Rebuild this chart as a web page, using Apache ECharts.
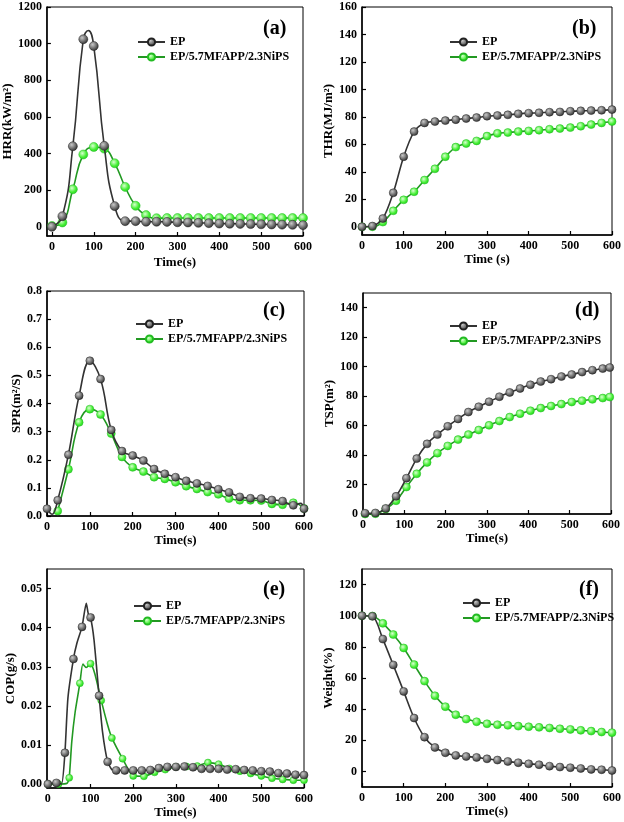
<!DOCTYPE html>
<html>
<head>
<meta charset="utf-8">
<script src="https://cdn.jsdelivr.net/npm/echarts@6/dist/echarts.min.js"></script>
<style>html,body{margin:0;padding:0;background:#fff}#c{width:624px;height:822px}</style>
</head>
<body>
<div id="c"></div>
<script>
// ---------------- DATA ----------------
const nameEP = 'EP';
const nameNiPS = 'EP/5.7MFAPP/2.3NiPS';
const time25 = [0,25,50,75,100,125,150,175,200,225,250,275,300,325,350,375,400,425,450,475,500,525,550,575,600];
const timeTicks = [0,100,200,300,400,500,600];

const hrrTimeEP = [0,25,50,75,87,100,125,150,175,200,225,250,275,300,325,350,375,400,425,450,475,500,525,550,575,600];
const hrrEP     = [0,58,440,1024,1072,987,442,113,31,31,28,28,27,25,24,22,20,18,17,16,15,14,13,12,11,9];
const hrrNiPS   = [5,24,205,395,436,427,347,218,115,64,47,48,48,48,48,48,48,48,48,48,48,48,48,48,48];
const hrrTicks  = [0,200,400,600,800,1000,1200];

const thrEP   = [0,0.5,6,24.7,51,69.3,75.6,76.6,77.3,78,78.8,79.5,80.5,81,81.5,82.2,82.7,83,83.4,83.6,84.1,84.4,84.6,84.8,85.3];
const thrNiPS = [0,0,3.4,11.6,19.6,25.5,34,42.2,51,58,60.6,62.5,66,68,68.6,69.3,69.8,70.3,71,71.5,72.2,73.2,74.4,75.6,76.6];
const thrTicks = [0,20,40,60,80,100,120,140,160];

const sprTimeEP = [0,12,25,50,75,100,125,150,175,200,225,250,275,300,325,350,375,400,425,450,475,500,525,550,575,592,600];
const sprEP     = [0.026,0.006,0.056,0.218,0.428,0.552,0.487,0.306,0.231,0.215,0.197,0.167,0.150,0.138,0.125,0.116,0.107,0.095,0.084,0.068,0.063,0.062,0.057,0.053,0.038,0.045,0.026];
const sprNiPS   = [null,0.018,0.166,0.333,0.380,0.361,0.293,0.210,0.173,0.158,0.138,0.132,0.120,0.106,0.096,0.085,0.077,0.062,0.056,0.056,0.055,0.043,0.040,0.047,0.027];
const sprTicks  = [0,0.1,0.2,0.3,0.4,0.5,0.6,0.7,0.8];

const tspTime = [5,30,55,80,105,130,155,180,205,230,255,280,305,330,355,380,405,430,455,480,505,530,555,580,597];
const tspEP   = [0.5,0.7,3.8,12,24.3,37.6,47.6,53.9,59.5,64.5,69.2,72.8,76.2,79.6,82.5,85.2,87.7,89.9,91.5,93.3,94.7,96.3,97.6,98.7,99.4];
const tspNiPS = [0,0.2,3.4,9,18.3,27.3,35,41.3,46.2,50.5,53.9,57,60.2,63.1,65.8,68.1,70.1,71.9,73.3,74.6,76,76.9,77.8,78.7,79.4];
const tspTicks = [0,20,40,60,80,100,120,140];

const copTimeEP = [0,20,32,40,47,60,68,80,90,95,100,108,120,128,140,150,160,180,200,220,240,260,280,300,320,340,360,380,400,420,440,460,480,500,520,540,560,580,600];
const copEP     = [0,0.0003,0,0.0080,0.0220,0.0320,0.0360,0.0402,0.0462,0.0434,0.0426,0.0370,0.0226,0.0134,0.0057,0.0037,0.0035,0.0035,0.0035,0.0035,0.0036,0.0041,0.0044,0.0044,0.0045,0.0043,0.0039,0.0039,0.0039,0.0037,0.0038,0.0036,0.0035,0.0033,0.0032,0.0028,0.0027,0.0024,0.0023];
const copMarkEP = 20;
const copTimeNiPS = [0,25,45,50,56,64,75,82,90,100,110,125,140,150,175,200,225,250,275,300,325,350,375,400,425,450,475,500,525,550,575,600];
const copNiPS     = [0,0,0.0002,0.0016,0.0108,0.0185,0.0258,0.0307,0.0298,0.0308,0.0282,0.0214,0.0151,0.0118,0.0065,0.0021,0.0020,0.0030,0.0037,0.0044,0.0045,0.0046,0.0055,0.0051,0.0040,0.0033,0.0027,0.0021,0.0015,0.0012,0.0010,0.0010];
const copMarkNiPS = 25;
const copTicks = [0,0.01,0.02,0.03,0.04,0.05];

const wtEP   = [100,99.6,85,68.4,51.4,34.3,22,15.4,12,10.3,9.6,9,8.1,7.3,6.4,5.6,4.9,4.3,3.4,2.8,2.4,1.9,1.3,1.1,0.6];
const wtNiPS = [100,99.8,95.1,87.9,79.3,68.6,58,48.6,41.6,36.4,33.6,31.9,30.6,30,29.6,29.1,28.7,28.3,27.9,27.4,27,26.4,25.9,25.3,24.9];
const wtTicks = [0,20,40,60,80,100,120];

// ---------------- STYLE ----------------
const FONT = 'Liberation Serif';
const txt = (size) => ({ fontFamily: FONT, fontWeight: 'bold', fontSize: size, color: '#000' });
const epItem = { color: { type: 'radial', x: 0.38, y: 0.35, r: 0.7, colorStops: [{offset:0,color:'#c8c8c8'},{offset:1,color:'#2a2a2a'}] }, borderColor: '#222', borderWidth: 0.5 };
const npItem = { color: { type: 'radial', x: 0.4, y: 0.38, r: 0.7, colorStops: [{offset:0,color:'#d8ffd0'},{offset:0.6,color:'#44ee33'},{offset:1,color:'#22cc22'}] }, borderColor: '#22bb22', borderWidth: 0.5 };
const epLine = { color: '#333333', width: 1.6 };
const npLine = { color: '#229922', width: 1.6 };

const grids = [
  { left: 44,  top: 7,   width: 259, height: 229 },
  { left: 362, top: 7,   width: 252, height: 228 },
  { left: 47,  top: 291, width: 257, height: 225 },
  { left: 363, top: 293, width: 248, height: 221 },
  { left: 47,  top: 569, width: 257, height: 219 },
  { left: 362, top: 569, width: 252, height: 218 }
].map(g => Object.assign({ show: true, borderColor: '#000', borderWidth: 1, backgroundColor: 'transparent' }, g));

function xAx(gi, min, name, gap) {
  return {
    type: 'value', gridIndex: gi, min: min, max: 600,
    name: name, nameLocation: 'middle', nameGap: gap, nameTextStyle: txt(13),
    axisLine: { show: true, onZero: false, lineStyle: { color: '#000', width: 1.5 } },
    axisTick: { show: true, inside: true, length: 4, customValues: timeTicks, lineStyle: { color: '#000', width: 1.2 } },
    axisLabel: Object.assign({ customValues: timeTicks, margin: 5 }, txt(12)),
    splitLine: { show: false }
  };
}
function yAx(gi, min, max, ticks, name, gap, dec) {
  return {
    type: 'value', gridIndex: gi, min: min, max: max,
    name: name, nameLocation: 'middle', nameGap: gap, nameRotate: 90, nameTextStyle: txt(13),
    axisLine: { show: true, onZero: false, lineStyle: { color: '#000', width: 1.5 } },
    axisTick: { show: true, inside: true, length: 4, customValues: ticks, lineStyle: { color: '#000', width: 1.2 } },
    axisLabel: Object.assign({ customValues: ticks, margin: 5, formatter: v => dec ? Number(v).toFixed(dec) : String(v) }, txt(12)),
    splitLine: { show: false }
  };
}

function pairs(xs, ys) { return xs.map((x, i) => [x, ys[i] == null ? '-' : ys[i]]); }
function markedPairs(xs, ys, step) {
  return xs.map((x, i) => ({ value: [x, ys[i]], symbol: (x % step === 0) ? 'circle' : 'none' }));
}
function ser(gi, name, data, isEP, size, smooth) {
  return {
    type: 'line', name: name, xAxisIndex: gi, yAxisIndex: gi, data: data,
    symbol: 'circle', symbolSize: size, showAllSymbol: true, smooth: smooth,
    lineStyle: isEP ? epLine : npLine, itemStyle: isEP ? epItem : npItem,
    emphasis: { disabled: true }, animation: false, z: isEP ? 3 : 2
  };
}
function leg(left, top) {
  return {
    data: [nameEP, nameNiPS], orient: 'vertical', left: left, top: top,
    itemWidth: 27, itemHeight: 9, itemGap: 3, padding: 0, selectedMode: false,
    textStyle: txt(12)
  };
}
function label(t, left, top) {
  return { text: t, left: left, top: top, padding: 0, textStyle: txt(20) };
}

const option = {
  animation: false,
  backgroundColor: '#fff',
  grid: grids,
  title: [label('(a)', 263, 19), label('(b)', 572, 19), label('(c)', 263, 301), label('(d)', 575, 301), label('(e)', 263, 580), label('(f)', 579, 580)],
  legend: [leg(137, 36), leg(449, 36), leg(135, 318), leg(449, 320), leg(133, 600), leg(462, 597)],
  xAxis: [
    xAx(0, -12, 'Time(s)', 20),
    xAx(1, 0, 'Time (s)', 15),
    xAx(2, 0, 'Time(s)', 16),
    xAx(3, 0, 'Time(s)', 17),
    xAx(4, -2, 'Time(s)', 17),
    xAx(5, 0, 'Time(s)', 18)
  ],
  yAxis: [
    yAx(0, -50, 1200, hrrTicks, 'HRR(kW/m²)', 27, 0),
    yAx(1, -6, 160, thrTicks, 'THR(MJ/m²)', 23, 0),
    yAx(2, 0, 0.8, sprTicks, 'SPR(m²/S)', 22, 1),
    yAx(3, 0, 150, tspTicks, 'TSP(m²)', 23, 0),
    yAx(4, -0.001, 0.055, copTicks, 'COP(g/s)', 27, 2),
    yAx(5, -10, 130, wtTicks, 'Weight(%)', 21, 0)
  ],
  series: [
    ser(0, nameNiPS, pairs(time25, hrrNiPS), false, 9, 0.5),
    ser(0, nameEP, markedPairs(hrrTimeEP, hrrEP, 25), true, 9, 0.5),
    ser(1, nameNiPS, pairs(time25, thrNiPS), false, 8, 0.3),
    ser(1, nameEP, pairs(time25, thrEP), true, 8, 0.3),
    ser(2, nameNiPS, pairs(time25, sprNiPS), false, 8, 0.4),
    ser(2, nameEP, markedPairs(sprTimeEP, sprEP, 25), true, 8, 0.4),
    ser(3, nameNiPS, pairs(tspTime, tspNiPS), false, 8, 0.4),
    ser(3, nameEP, pairs(tspTime, tspEP), true, 8, 0.4),
    ser(4, nameNiPS, markedPairs(copTimeNiPS, copNiPS, copMarkNiPS), false, 7, 0.2),
    ser(4, nameEP, markedPairs(copTimeEP, copEP, copMarkEP), true, 8, 0.2),
    ser(5, nameNiPS, pairs(time25, wtNiPS), false, 8, 0.3),
    ser(5, nameEP, pairs(time25, wtEP), true, 8, 0.3)
  ]
};
const chart = echarts.init(document.getElementById('c'), null, { renderer: 'canvas' });
chart.setOption(option);
</script>
</body>
</html>
